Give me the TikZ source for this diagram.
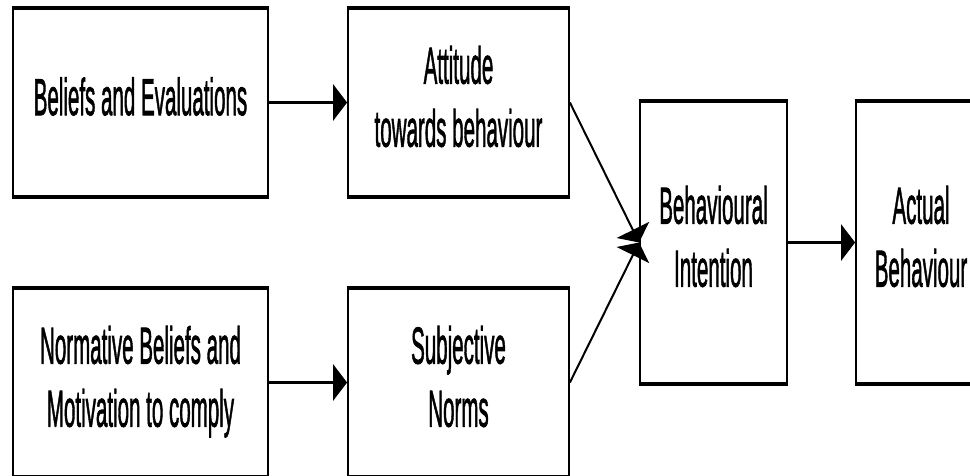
\documentclass[tikz,border=0pt]{standalone}
\usepackage{fontspec}
\setmainfont{Liberation Sans}
\newfontfamily\heavyfont[FakeBold=1.8]{Liberation Sans}
\usepackage{graphicx}
\usetikzlibrary{arrows.meta}
\newcommand{\sqtext}[1]{\scalebox{0.395}[1]{\begin{tabular}{@{}c@{}}#1\end{tabular}}}
\tikzset{
  box/.style={draw=black, line width=1.8pt, fill=white, inner sep=0pt,
    font=\heavyfont\fontsize{52}{63}\selectfont, align=center},
  hedge/.style={line width=3.6pt, black},
  harrow/.style={line width=3.4pt, -{Triangle[length=14pt,width=36pt]}},
  darrow/.style={line width=2pt, -{Triangle[length=14pt,width=36pt]}},
}
\begin{document}
\begin{tikzpicture}[x=1pt,y=1pt]
\useasboundingbox (0,0) rectangle (970,-475);
\clip (0,0) rectangle (970,-475);
\fill[white] (0,0) rectangle (970,-475);

\node[box, minimum width=255pt, minimum height=187pt] (b1) at (140.5,-102.5) {\sqtext{Beliefs and Evaluations}};
\node[box, minimum width=221pt, minimum height=187pt] (b2) at (458.5,-102.5) {\sqtext{Attitude\\towards behaviour}};
\node[box, minimum width=255pt, minimum height=187pt] (b3) at (140.5,-382.5) {\sqtext{Normative Beliefs and\\Motivation to comply}};
\node[box, minimum width=221pt, minimum height=187pt] (b4) at (458.5,-382.5) {\sqtext{Subjective\\Norms}};
\node[box, minimum width=147pt, minimum height=281pt] (b5) at (713.5,-242.5) {\sqtext{Behavioural\\Intention}};
\node[box, minimum width=130pt, minimum height=281pt] (b6) at (921,-242.5) {\sqtext{Actual\\Behaviour}};

\foreach \n in {b1,b2,b3,b4,b5,b6}{
  \draw[hedge] (\n.north west) -- (\n.north east);
  \draw[hedge] (\n.south west) -- (\n.south east);
}

\draw[harrow] (b1.east) -- (b2.west);
\draw[harrow] (b3.east) -- (b4.west);
\draw[darrow] (b2.east) -- (b5.west);
\draw[darrow] (b4.east) -- (b5.west);
\draw[harrow] (b5.east) -- (b6.west);
\end{tikzpicture}
\end{document}
